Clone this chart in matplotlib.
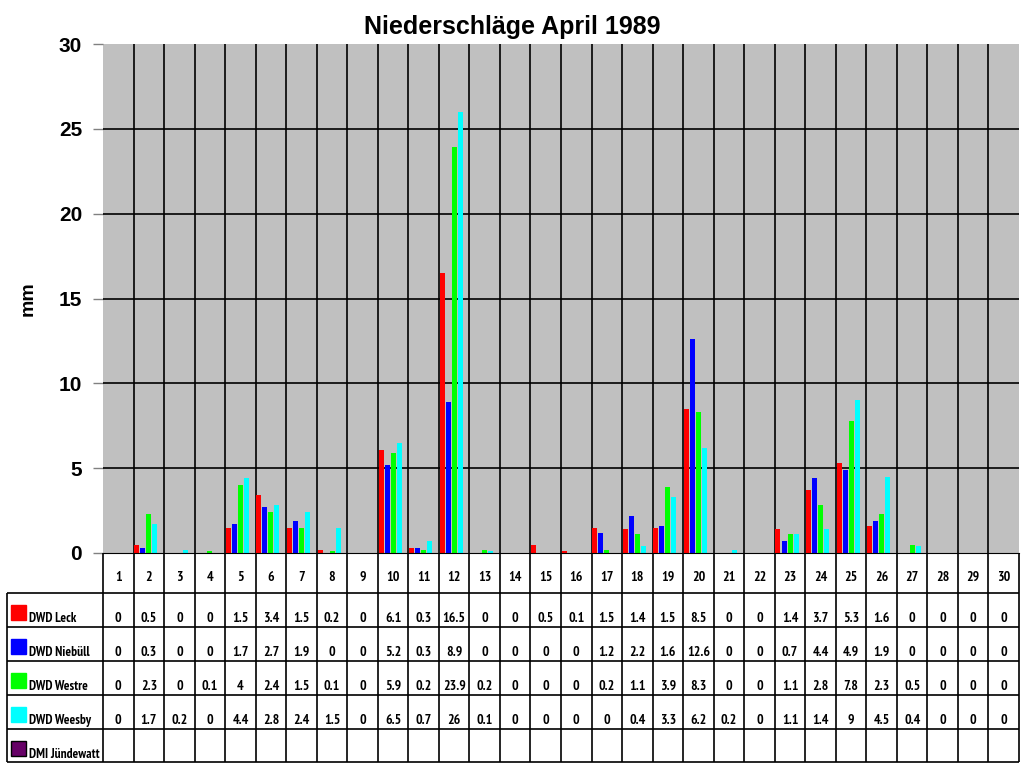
import matplotlib
matplotlib.use("Agg")
import matplotlib.pyplot as plt
import numpy as np
from matplotlib.patches import Rectangle

# ---------------------------------------------------------------------------
# Data (mm per day, April 1989)
# ---------------------------------------------------------------------------
days = list(range(1, 31))
stations = ["DWD Leck", "DWD Niebüll", "DWD Westre", "DWD Weesby", "DMI Jündewatt"]
colors = ["#FF0000", "#0000FF", "#00FF00", "#00FFFF", "#660066"]

leck = [0, 0.5, 0, 0, 1.5, 3.4, 1.5, 0.2, 0, 6.1, 0.3, 16.5, 0, 0, 0.5,
        0.1, 1.5, 1.4, 1.5, 8.5, 0, 0, 1.4, 3.7, 5.3, 1.6, 0, 0, 0, 0]
niebuell = [0, 0.3, 0, 0, 1.7, 2.7, 1.9, 0, 0, 5.2, 0.3, 8.9, 0, 0, 0,
            0, 1.2, 2.2, 1.6, 12.6, 0, 0, 0.7, 4.4, 4.9, 1.9, 0, 0, 0, 0]
westre = [0, 2.3, 0, 0.1, 4, 2.4, 1.5, 0.1, 0, 5.9, 0.2, 23.9, 0.2, 0, 0,
          0, 0.2, 1.1, 3.9, 8.3, 0, 0, 1.1, 2.8, 7.8, 2.3, 0.5, 0, 0, 0]
weesby = [0, 1.7, 0.2, 0, 4.4, 2.8, 2.4, 1.5, 0, 6.5, 0.7, 26, 0.1, 0, 0,
          0, 0, 0.4, 3.3, 6.2, 0.2, 0, 1.1, 1.4, 9, 4.5, 0.4, 0, 0, 0]
juendewatt = [None] * 30  # no data

series = [leck, niebuell, westre, weesby, juendewatt]

# ---------------------------------------------------------------------------
# Layout in pixels (figure 1024x768)
# ---------------------------------------------------------------------------
W, H = 1024, 768
px_left, px_right = 103, 1019
px_top, px_bottom = 44, 553
tab_left, tab_bottom = 7, 762
row_edges = [553, 593, 627, 661, 695, 729, 762]

narrow = ["PT Sans Narrow", "DejaVu Sans"]
bold_font = ["Liberation Sans", "DejaVu Sans"]

fig = plt.figure(figsize=(W / 100, H / 100), dpi=100)
fig.patch.set_facecolor("white")

ax = fig.add_axes([px_left / W, 1 - px_bottom / H,
                   (px_right - px_left) / W, (px_bottom - px_top) / H])
ax.set_facecolor("#C0C0C0")

x = np.array(days, dtype=float)
day_px = (px_right - px_left) / 30
slot = 6 / day_px
bar_w = 5 / day_px
for i, (vals, col) in enumerate(zip(series, colors)):
    if all(v is None for v in vals):
        continue
    v = np.array([0 if a is None else a for a in vals], dtype=float)
    ax.bar(x + (i - 2) * slot, v, width=bar_w, color=col, zorder=3)

ax.set_xlim(0.5, 30.5)
ax.set_ylim(0, 30)
ax.set_yticks(range(0, 31, 5))
ax.set_yticklabels([str(t) for t in range(0, 31, 5)],
                   fontsize=15, fontweight="bold", family=bold_font)
ax.set_xticks([])
ax.tick_params(axis="y", length=7, width=1, color="#808080", pad=8)
for yv in range(5, 30, 5):
    ax.axhline(yv, color="black", lw=1.2, zorder=2)
for b in np.arange(1.5, 30.5, 1):
    ax.axvline(b, color="black", lw=1.2, zorder=2)
for s in ["top", "right", "left"]:
    ax.spines[s].set_visible(False)
ax.spines["bottom"].set_color("black")
ax.spines["bottom"].set_zorder(4)

ax.set_ylabel("mm", fontsize=14, fontweight="bold", family=bold_font, labelpad=16)
fig.text(0.5, 1 - 27 / H, "Niederschläge April 1989", ha="center", va="center",
         fontsize=18, fontweight="bold", family=bold_font)

# ---------------------------------------------------------------------------
# Data table below the plot
# ---------------------------------------------------------------------------
tax = fig.add_axes([tab_left / W, 1 - tab_bottom / H,
                    (px_right - tab_left) / W, (tab_bottom - px_bottom) / H])
tax.set_xlim(0.5 - (px_left - tab_left) / day_px, 30.5)
tax.set_ylim(tab_bottom, px_bottom)
tax.axis("off")
x_lab = tax.get_xlim()[0]

lk = dict(color="black", lw=1.2, solid_capstyle="butt", clip_on=False)
for b in np.arange(0.5, 31.0, 1):
    tax.plot([b, b], [row_edges[0], row_edges[-1]], **lk)
tax.plot([x_lab, x_lab], [row_edges[1], row_edges[-1]], **lk)
for r in row_edges[1:]:
    tax.plot([x_lab, 30.5], [r, r], **lk)

tfont = dict(fontsize=10, fontweight="bold", family=narrow)
lfont = dict(fontsize=9.5, fontweight="bold", family=narrow)
for d in days:
    tax.text(d, 577, str(d), ha="center", va="center", **tfont)

for i, (name, vals, col) in enumerate(zip(stations, series, colors)):
    top = row_edges[i + 1]
    key_x = x_lab + 4 / day_px
    tax.add_patch(Rectangle((key_x, top + 12), 15 / day_px, 15,
                            facecolor=col, edgecolor="black" if i == 4 else col,
                            lw=1, clip_on=False))
    tax.text(x_lab + 22 / day_px, top + 29, name, ha="left", va="baseline", **lfont)
    for d, v in zip(days, vals):
        if v is None:
            continue
        tax.text(d, top + 29, f"{v:g}", ha="center", va="baseline", **tfont)

fig.savefig("out.png", dpi=100)
